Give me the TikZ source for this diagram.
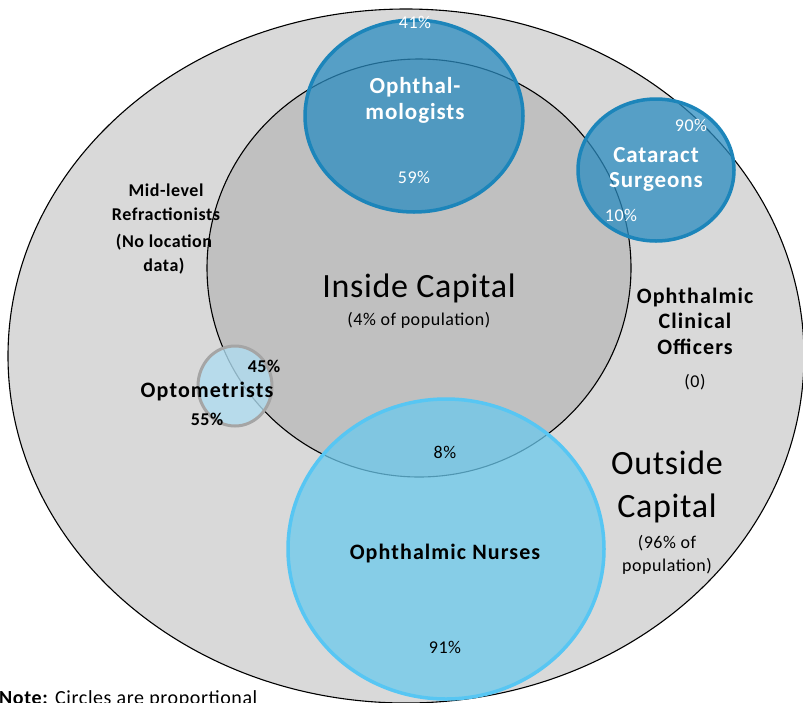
\documentclass[tikz,border=0pt]{standalone}
\usepackage{fontspec}
\setmainfont{Carlito}
\definecolor{outerfill}{HTML}{D9D9D9}
\definecolor{innerfill}{HTML}{C0C0C0}
\definecolor{ophfill}{RGB}{43,140,192}
\definecolor{ophdraw}{HTML}{1C85BA}
\definecolor{nursefill}{RGB}{107,201,237}
\definecolor{nursedraw}{HTML}{57C6F3}
\definecolor{optfill}{RGB}{175,220,240}
\definecolor{optdraw}{HTML}{A5A5A5}
\newcommand{\fsz}[3]{\fontsize{#1}{#2}\selectfont\addfontfeatures{LetterSpace=#3}}
\tikzset{
  region/.style={draw=black, line width=1.1pt},
  cadre/.style={line width=3.5pt, fill opacity=0.75},
  wlab/.style={text=white, align=center, font=\fsz{18}{21}{3}},
  wbold/.style={text=white, align=center, font=\bfseries\fsz{23}{25.5}{4}},
  blab/.style={text=black, align=center, font=\fsz{18}{21}{3}},
  bbold/.style={text=black, align=center, font=\bfseries\fsz{22}{25.5}{5}},
}
\begin{document}
\begin{tikzpicture}[x=1pt,y=-1pt]
\useasboundingbox (0,0) rectangle (803,702);
% outer and inner regions
\path[region, fill=outerfill] (406,356) ellipse [x radius=398, y radius=347];
\path[region, fill=innerfill] (419,268) ellipse [x radius=212, y radius=209];
% Ophthalmologists
\path[cadre, fill=ophfill, draw=ophdraw] (414,116) ellipse [x radius=109, y radius=96];
% Cataract surgeons
\path[cadre, fill=ophfill, draw=ophdraw] (656,170) ellipse [x radius=78, y radius=71];
% Nurses
\path[cadre, fill=nursefill, draw=nursedraw] (446,549) ellipse [x radius=158, y radius=150];
% Optometrists
\path[line width=3pt, fill=optfill, fill opacity=0.8, draw=optdraw] (235,386) ellipse [x radius=37, y radius=40];

% labels
\node[wlab] (p41) at (415,22) {41\%};
\node[wbold, font=\bfseries\fsz{23}{26}{4}] (oph) at (415,100) {Ophthal-\\mologists};
\node[wlab] (p59) at (414,177) {59\%};
\node[wlab] (p90) at (691,125) {90\%};
\node[wbold, font=\bfseries\fsz{23}{25}{4}] (cat) at (656,169) {Cataract\\Surgeons};
\node[wlab] (p10) at (621,215) {10\%};
\node[text=black, align=center, font=\bfseries\fsz{18}{24}{3}] (mid1) at (166,202) {Mid-level\\Refractionists};
\node[text=black, align=center, font=\bfseries\fsz{18}{24}{3}] (mid2) at (164,254) {(No location\\data)};
\node[text=black, font=\fsz{34}{40}{2}] (inside) at (419,288) {Inside Capital};
\node[blab] (pop4) at (419,320) {(4\% of population)};
\node[bbold] (oco) at (695,321) {Ophthalmic\\Clinical\\Officers};
\node[blab] (zero) at (695,382) {(0)};
\node[text=black, font=\bfseries\fsz{18}{21}{3}] (p45) at (264,366) {45\%};
\node[bbold] (opt) at (207,392) {Optometrists};
\node[text=black, font=\bfseries\fsz{18}{21}{3}] (p55) at (207,419) {55\%};
\node[blab] (p8) at (445,452) {8\%};
\node[text=black, align=center, font=\fsz{34}{43}{2}] (outside) at (667,487) {Outside\\Capital};
\node[blab, font=\fsz{18}{23}{3}] (pop96) at (667,555) {(96\% of\\population)};
\node[bbold] (nurse) at (445,554) {Ophthalmic Nurses};
\node[blab] (p91) at (445,647) {91\%};
\node[anchor=base west, inner sep=0pt, font=\fsz{20}{22}{3}] (note) at (-1,704) {\textbf{Note:} Circles are proportional};
\end{tikzpicture}
\end{document}
